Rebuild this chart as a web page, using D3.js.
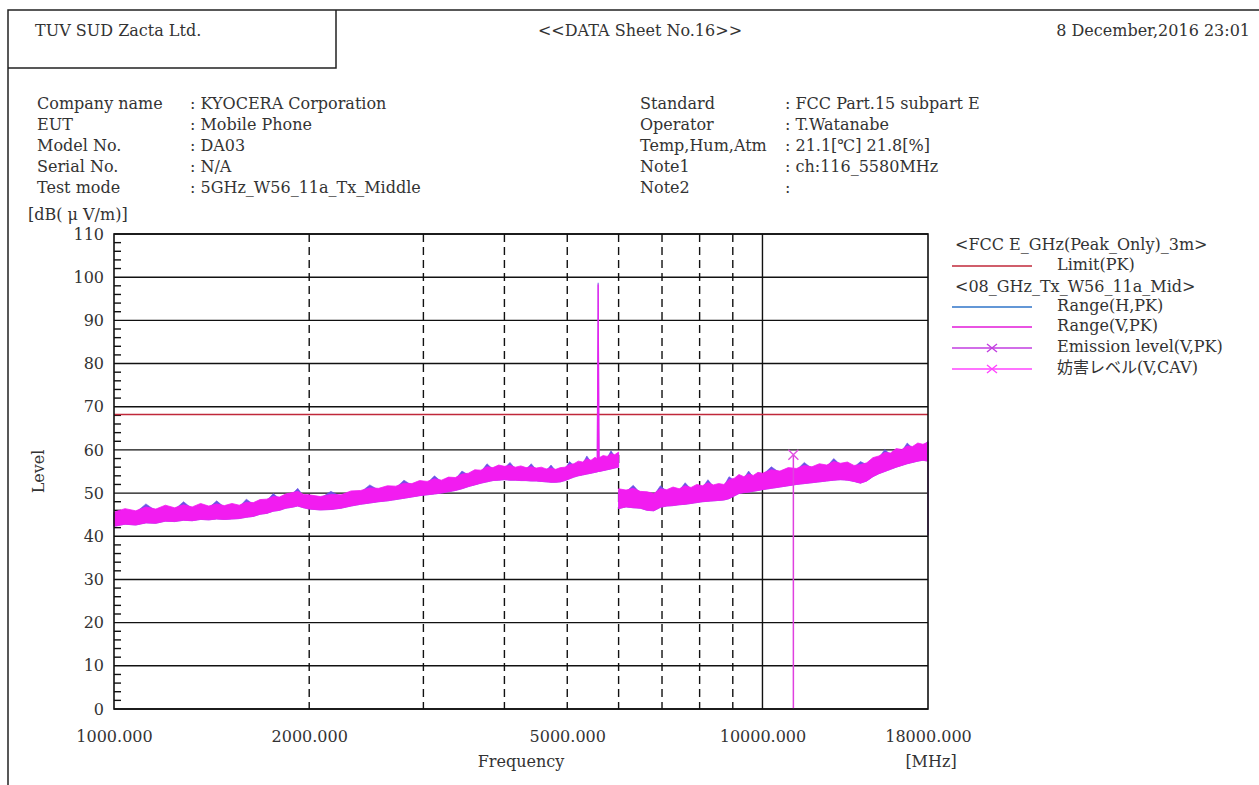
<!DOCTYPE html>
<html>
<head>
<meta charset="utf-8">
<script src="https://cdn.jsdelivr.net/npm/d3@7"></script>
<style>
  body { margin: 0; background: #fff; }
  text { font-family: "DejaVu Serif", "Noto Sans CJK JP", serif; font-size: 16px; fill: #333; }
</style>
</head>
<body>
<div id="sheet"></div>
<script>
// sheet header / info texts
var headerTexts = ["TUV SUD Zacta Ltd.", "<<DATA Sheet No.16>>", "8 December,2016 23:01"];
var infoLeftLabels = ["Company name", "EUT", "Model No.", "Serial No.", "Test mode"];
var infoLeftValues = [": KYOCERA Corporation", ": Mobile Phone", ": DA03", ": N/A", ": 5GHz_W56_11a_Tx_Middle"];
var infoRightLabels = ["Standard", "Operator", "Temp,Hum,Atm", "Note1", "Note2"];
var infoRightValues = [": FCC Part.15 subpart E", ": T.Watanabe", ": 21.1[\u2103] 21.8[%]", ": ch:116_5580MHz", ":"];

// axes
var yTicks = [0, 10, 20, 30, 40, 50, 60, 70, 80, 90, 100, 110];
var xTickValues = [1000, 2000, 5000, 10000, 18000];
var xDashedGrid = [2000, 3000, 4000, 5000, 6000, 7000, 8000, 9000];
var xSolidGrid = [10000];

// limit line
var limitLevel = 68.2;

// range 1 (1000 - 6000 MHz): frequency, V floor, V peak, H peak
var freqA = [1000,1040,1080,1120,1160,1200,1240,1280,1320,1360,1400,1440,1480,1520,1560,1600,1640,1680,1720,1760,1800,1840,1880,1920,1960,
  2000,2080,2160,2240,2320,2400,2480,2560,2640,2720,2800,2880,2960,3040,3120,3200,3280,3360,3440,3520,3600,3680,3760,3840,3920,
  4000,4080,4160,4240,4320,4400,4480,4560,4640,4720,4800,4880,4960,5040,5120,5200,5280,5360,5440,5520,5560,5580,5600,5680,5760,5840,5920,6000];
var vFloorA = [42.3,42.8,42.6,43.1,43.0,43.5,43.4,43.7,43.6,43.9,43.8,44.0,43.9,44.0,44.1,44.4,44.6,45.1,45.3,45.8,46.0,46.5,46.7,47.0,46.6,
  46.3,46.1,46.2,46.5,47.0,47.4,47.7,48.0,48.2,48.5,48.8,49.1,49.4,49.6,49.8,50.0,50.3,50.6,51.0,51.5,51.9,52.3,52.6,52.9,53.0,
  53.1,53.0,53.0,52.9,52.9,52.8,52.8,52.7,52.6,52.5,52.5,52.6,52.9,53.3,53.7,54.0,54.2,54.4,54.6,54.8,54.9,55.0,55.0,55.2,55.4,55.6,55.8,56.0];
var vPeakA = [45.6,46.4,45.9,46.8,46.3,47.2,46.6,47.3,46.8,47.6,47.0,47.5,47.1,47.6,47.2,47.9,47.8,48.5,48.6,49.2,49.1,49.8,50.1,50.4,49.7,
  49.6,49.2,49.7,49.6,50.5,50.6,51.2,51.1,51.7,51.6,52.3,52.2,52.9,52.7,53.3,53.0,53.7,53.6,54.4,54.6,55.4,55.3,56.1,55.9,56.5,
  56.2,56.4,56.0,56.3,55.9,56.1,55.8,56.0,55.6,55.8,55.5,55.9,56.0,56.6,56.8,57.4,57.2,57.9,57.6,58.3,57.9,98.3,58.2,58.7,58.5,59.1,58.9,59.5];
var hPeakA = [45.2,46.0,45.5,47.5,45.9,46.8,46.2,48.0,46.4,47.2,46.6,48.2,46.7,47.2,46.8,48.6,47.4,48.1,48.2,49.9,48.7,49.4,49.7,51.1,49.3,
  49.2,48.8,50.4,49.2,50.1,50.2,51.9,50.7,51.3,51.2,53.0,51.8,52.5,52.3,54.0,52.6,53.3,53.2,55.1,54.2,55.0,54.9,56.8,55.5,56.1,
  55.8,57.1,55.6,55.9,55.5,56.8,55.4,55.6,55.2,56.5,55.1,55.5,55.6,57.3,56.4,57.0,56.8,58.6,57.2,57.9,57.5,98.7,57.8,58.3,58.1,59.8,58.5,59.1];

// range 2 (6000 - 18000 MHz)
var freqB = [6000,6160,6320,6480,6640,6800,6960,7120,7280,7440,7600,7760,7920,8080,8240,8400,8560,8720,8880,9040,9200,9360,9520,9680,9840,
  10000,10320,10640,10960,11280,11600,11920,12240,12560,12880,13200,13520,13840,14160,14480,14800,15120,15440,15760,16080,16400,16720,17040,17360,17680,18000];
var vFloorB = [46.4,46.8,46.6,46.5,46.0,45.9,46.7,47.0,47.1,47.3,47.4,47.6,47.8,48.0,48.1,48.2,48.3,48.4,48.7,49.3,49.9,50.1,50.2,50.4,50.6,
  50.8,51.1,51.4,51.7,52.0,52.2,52.4,52.6,52.8,53.0,53.1,53.0,52.7,52.3,52.8,53.8,54.5,55.0,55.5,56.0,56.4,56.8,57.1,57.4,57.6,57.4];
var vPeakB = [51.0,50.7,51.1,50.4,50.3,49.9,51.0,50.8,51.4,51.0,51.7,51.3,52.0,51.7,52.4,51.9,52.2,52.0,53.1,53.4,54.3,53.8,54.4,54.1,54.8,
  54.6,55.4,55.1,55.9,55.7,56.4,56.1,56.8,56.5,57.3,56.9,57.2,56.4,56.6,57.0,58.2,58.6,59.4,59.3,60.3,60.1,60.9,60.8,61.6,61.3,61.8];
var hPeakB = [50.6,50.3,51.8,50.0,49.9,49.5,51.7,50.4,51.0,50.6,52.4,50.9,51.6,51.3,53.1,51.5,51.8,51.6,53.8,53.0,53.9,53.4,55.1,53.7,54.4,
  54.2,56.1,54.7,55.5,55.3,57.1,55.7,56.4,56.1,58.0,56.5,56.8,56.0,57.3,56.6,57.8,58.2,60.1,58.9,59.9,59.7,61.6,60.4,61.2,60.9,62.0];
var endLevel = 40.2;

// emission marker (2nd harmonic)
var emissionFreq = [11160];
var emissionLevel = [58.9];

// legend
var legendGroups = ["<FCC E_GHz(Peak_Only)_3m>", "<08_GHz_Tx_W56_11a_Mid>"];
var legendLabels = ["Limit(PK)", "Range(H,PK)", "Range(V,PK)", "Emission level(V,PK)", "妨害レベル(V,CAV)"];
var legendColors = ["#c0283a", "#2f74c8", "#e21ad8", "#c23ee0", "#ff44ff"];

var svgWidth = 1259;
var svgHeight = 785;

var margin = {
  top: 234,
  right: 331,
  bottom: 76,
  left: 114
};

var width = svgWidth - margin.left - margin.right;
var height = svgHeight - margin.top - margin.bottom;

var svg = d3.select("#sheet")
  .append("svg")
  .attr("width", svgWidth)
  .attr("height", svgHeight);

// sheet frame
svg.append("path")
  .attr("d", "M8,785 V10 H1259 M8,68 H336 V10")
  .attr("fill", "none")
  .attr("stroke", "#222")
  .attr("stroke-width", 1.5);

svg.append("text").attr("x", 35).attr("y", 36).text(headerTexts[0]);
svg.append("text").attr("x", 640).attr("y", 36).attr("text-anchor", "middle").text(headerTexts[1]);
svg.append("text").attr("x", 1250).attr("y", 36).attr("text-anchor", "end").text(headerTexts[2]);

// info block
function infoColumn(labels, values, xLabel, xValue) {
  svg.selectAll(null)
    .data(labels)
    .enter()
    .append("text")
    .attr("x", xLabel)
    .attr("y", (d, i) => 109 + i * 21)
    .text(d => d);

  svg.selectAll(null)
    .data(values)
    .enter()
    .append("text")
    .attr("x", xValue)
    .attr("y", (d, i) => 109 + i * 21)
    .text(d => d);
}
infoColumn(infoLeftLabels, infoLeftValues, 37, 190);
infoColumn(infoRightLabels, infoRightValues, 640, 785);

svg.append("text").attr("x", 28).attr("y", 220).text("[dB( \u03bc V/m)]");

var chartGroup = svg.append("g")
  .attr("transform", `translate(${margin.left}, ${margin.top})`);

// scales
var xLogScale = d3.scaleLog()
  .domain([1000, 18000])
  .range([0, width]);

var yLinearScale = d3.scaleLinear()
  .domain([0, 110])
  .range([height, 0]);

// horizontal grid
chartGroup.selectAll(".hgrid")
  .data(yTicks)
  .enter()
  .append("line")
  .attr("x1", 0)
  .attr("x2", width)
  .attr("y1", d => yLinearScale(d))
  .attr("y2", d => yLinearScale(d))
  .attr("stroke", "#111")
  .attr("stroke-width", 1.4);

// minor ticks every 2 dB
chartGroup.selectAll(".minor")
  .data(d3.range(0, 110, 2).filter(d => d % 10 != 0))
  .enter()
  .append("line")
  .attr("x1", 0)
  .attr("x2", 7)
  .attr("y1", d => yLinearScale(d))
  .attr("y2", d => yLinearScale(d))
  .attr("stroke", "#111")
  .attr("stroke-width", 1.4);

// vertical grid
chartGroup.selectAll(".vdash")
  .data(xDashedGrid)
  .enter()
  .append("line")
  .attr("x1", d => xLogScale(d))
  .attr("x2", d => xLogScale(d))
  .attr("y1", 0)
  .attr("y2", height)
  .attr("stroke", "#111")
  .attr("stroke-width", 1.4)
  .attr("stroke-dasharray", "8,5");

chartGroup.selectAll(".vsolid")
  .data(xSolidGrid)
  .enter()
  .append("line")
  .attr("x1", d => xLogScale(d))
  .attr("x2", d => xLogScale(d))
  .attr("y1", 0)
  .attr("y2", height)
  .attr("stroke", "#111")
  .attr("stroke-width", 1.4);

// limit line
chartGroup.append("line")
  .attr("x1", 0)
  .attr("x2", width)
  .attr("y1", yLinearScale(limitLevel))
  .attr("y2", yLinearScale(limitLevel))
  .attr("stroke", legendColors[0])
  .attr("stroke-width", 1.6);

// traces
function rows(freqs, floor, vPeak, hPeak) {
  return freqs.map((f, i) => ({ f: f, lo: floor[i], v: vPeak[i], h: hPeak[i] }));
}
var rangeA = rows(freqA, vFloorA, vPeakA, hPeakA);
var rangeB = rows(freqB, vFloorB, vPeakB, hPeakB);

var hArea = d3.area()
  .x(d => xLogScale(d.f))
  .y0(d => yLinearScale(d.lo))
  .y1(d => yLinearScale(d.h));

var vArea = d3.area()
  .x(d => xLogScale(d.f))
  .y0(d => yLinearScale(d.lo))
  .y1(d => yLinearScale(d.v));

[rangeA, rangeB].forEach(function(data) {
  chartGroup.append("path")
    .attr("d", hArea(data))
    .attr("fill", "#6a52e6")
    .attr("stroke", "#6a52e6")
    .attr("stroke-width", 0.6);

  chartGroup.append("path")
    .attr("d", vArea(data))
    .attr("fill", "#f21cf0")
    .attr("stroke", "#f21cf0")
    .attr("stroke-width", 0.8);
});

// trace end drop at 18 GHz
chartGroup.append("line")
  .attr("x1", xLogScale(18000))
  .attr("x2", xLogScale(18000))
  .attr("y1", yLinearScale(vPeakB[vPeakB.length - 1]))
  .attr("y2", yLinearScale(endLevel))
  .attr("stroke", "#a556d8")
  .attr("stroke-width", 1.6);

// emission marker with stem
chartGroup.selectAll(".stem")
  .data(emissionFreq)
  .enter()
  .append("line")
  .attr("x1", d => xLogScale(d))
  .attr("x2", d => xLogScale(d))
  .attr("y1", (d, i) => yLinearScale(emissionLevel[i]))
  .attr("y2", height)
  .attr("stroke", "#e040e0")
  .attr("stroke-width", 1.5);

chartGroup.selectAll(".cross")
  .data(emissionFreq)
  .enter()
  .append("path")
  .attr("transform", (d, i) => `translate(${xLogScale(d)}, ${yLinearScale(emissionLevel[i])})`)
  .attr("d", "M-5,-5L5,5M-5,5L5,-5")
  .attr("stroke", "#e050e0")
  .attr("stroke-width", 1.4);

// frame
chartGroup.append("rect")
  .attr("width", width)
  .attr("height", height)
  .attr("fill", "none")
  .attr("stroke", "#111")
  .attr("stroke-width", 1.6);

// axis labels
var leftAxis = d3.axisLeft(yLinearScale)
  .tickValues(yTicks)
  .tickSize(0)
  .tickPadding(10);

var yAxis = chartGroup.append("g").call(leftAxis);
yAxis.select(".domain").remove();
yAxis.selectAll("text").style("font-size", "16px").style("font-family", "DejaVu Serif").attr("fill", "#333");

var bottomAxis = d3.axisBottom(xLogScale)
  .tickValues(xTickValues)
  .tickFormat(d3.format(".3f"))
  .tickSize(0)
  .tickPadding(22);

var xAxis = chartGroup.append("g")
  .attr("transform", `translate(0, ${height})`)
  .call(bottomAxis);
xAxis.select(".domain").remove();
xAxis.selectAll("text").style("font-size", "16px").style("font-family", "DejaVu Serif").attr("fill", "#333");

chartGroup.append("text")
  .attr("x", width / 2)
  .attr("y", height + 58)
  .attr("text-anchor", "middle")
  .text("Frequency");

chartGroup.append("text")
  .attr("x", width + 3)
  .attr("y", height + 58)
  .attr("text-anchor", "middle")
  .text("[MHz]");

chartGroup.append("text")
  .attr("transform", `translate(${-70}, ${yLinearScale(55)}) rotate(-90)`)
  .attr("text-anchor", "middle")
  .text("Level");

// legend
var legend = svg.append("g");
legend.append("text").attr("x", 955).attr("y", 250).text(legendGroups[0]);
legend.append("text").attr("x", 955).attr("y", 292).text(legendGroups[1]);

var legendY = [266, 307, 327, 348, 369];

legend.selectAll(".lline")
  .data(legendLabels)
  .enter()
  .append("line")
  .attr("x1", 952)
  .attr("x2", 1032)
  .attr("y1", (d, i) => legendY[i])
  .attr("y2", (d, i) => legendY[i])
  .attr("stroke", (d, i) => legendColors[i])
  .attr("stroke-width", 1.6);

legend.selectAll(".ltext")
  .data(legendLabels)
  .enter()
  .append("text")
  .attr("x", 1057)
  .attr("y", (d, i) => legendY[i] + 4)
  .text(d => d);

legend.selectAll(".lcross")
  .data(legendLabels.slice(3))
  .enter()
  .append("path")
  .attr("transform", (d, i) => `translate(992, ${legendY[i + 3]})`)
  .attr("d", "M-5,-4L5,4M-5,4L5,-4")
  .attr("stroke", (d, i) => legendColors[i + 3])
  .attr("stroke-width", 1.4);
</script>
</body>
</html>
